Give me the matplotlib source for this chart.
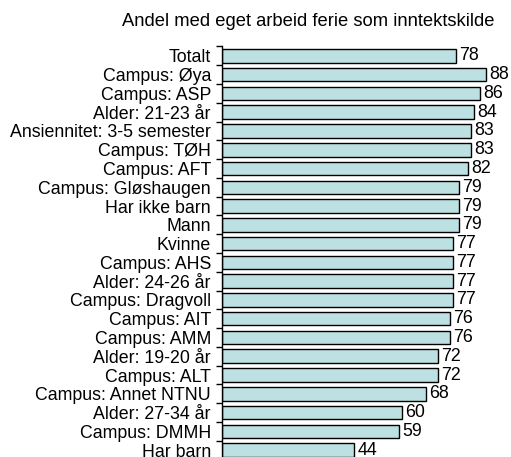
import matplotlib
matplotlib.use("Agg")
import matplotlib.pyplot as plt
import numpy as np

categories = ["Totalt", "Campus: Øya", "Campus: ASP", "Alder: 21-23 år",
              "Ansiennitet: 3-5 semester", "Campus: TØH", "Campus: AFT",
              "Campus: Gløshaugen", "Har ikke barn", "Mann", "Kvinne",
              "Campus: AHS", "Alder: 24-26 år", "Campus: Dragvoll",
              "Campus: AIT", "Campus: AMM", "Alder: 19-20 år", "Campus: ALT",
              "Campus: Annet NTNU", "Alder: 27-34 år", "Campus: DMMH", "Har barn"]
values = [78, 88, 86, 84, 83, 83, 82, 79, 79, 79, 77, 77, 77, 77, 76, 76,
          72, 72, 68, 60, 59, 44]
title = "Andel med eget arbeid ferie som inntektskilde"

plt.rcParams['font.family'] = ['Liberation Sans', 'DejaVu Sans']

W, H = 511, 457
fig = plt.figure(figsize=(W/100, H/100), dpi=100)
left_px, top_px, bottom_px = 222, 46.5, 459.5
xmax = 96
ax = fig.add_axes([left_px/W, 1 - bottom_px/H, 3*xmax/W, (bottom_px - top_px)/H])

n = len(categories)
y = np.arange(n)
ax.barh(y, values, height=0.72, color="#bde0e2", edgecolor="black", linewidth=1.0)
ax.set_ylim(n - 0.5, -0.5)
ax.set_xlim(0, xmax)
for yi, v in zip(y, values):
    ax.text(v + 1.2, yi, f"{v}", va="center", ha="left", fontsize=12.8)

ax.set_yticks(y)
ax.set_yticklabels(categories, fontsize=12.8)
ax.tick_params(axis="y", which="major", length=0, pad=8)
ax.set_yticks(np.arange(n + 1) - 0.5, minor=True)
ax.tick_params(axis="y", which="minor", length=4, width=1)
ax.set_xticks([])
for s in ["top", "right", "bottom"]:
    ax.spines[s].set_visible(False)
ax.spines["left"].set_linewidth(1.0)

fig.text(308/W, 1 - 22/H, title, ha="center", va="center", fontsize=13.2)

fig.savefig("out.png", dpi=100)
